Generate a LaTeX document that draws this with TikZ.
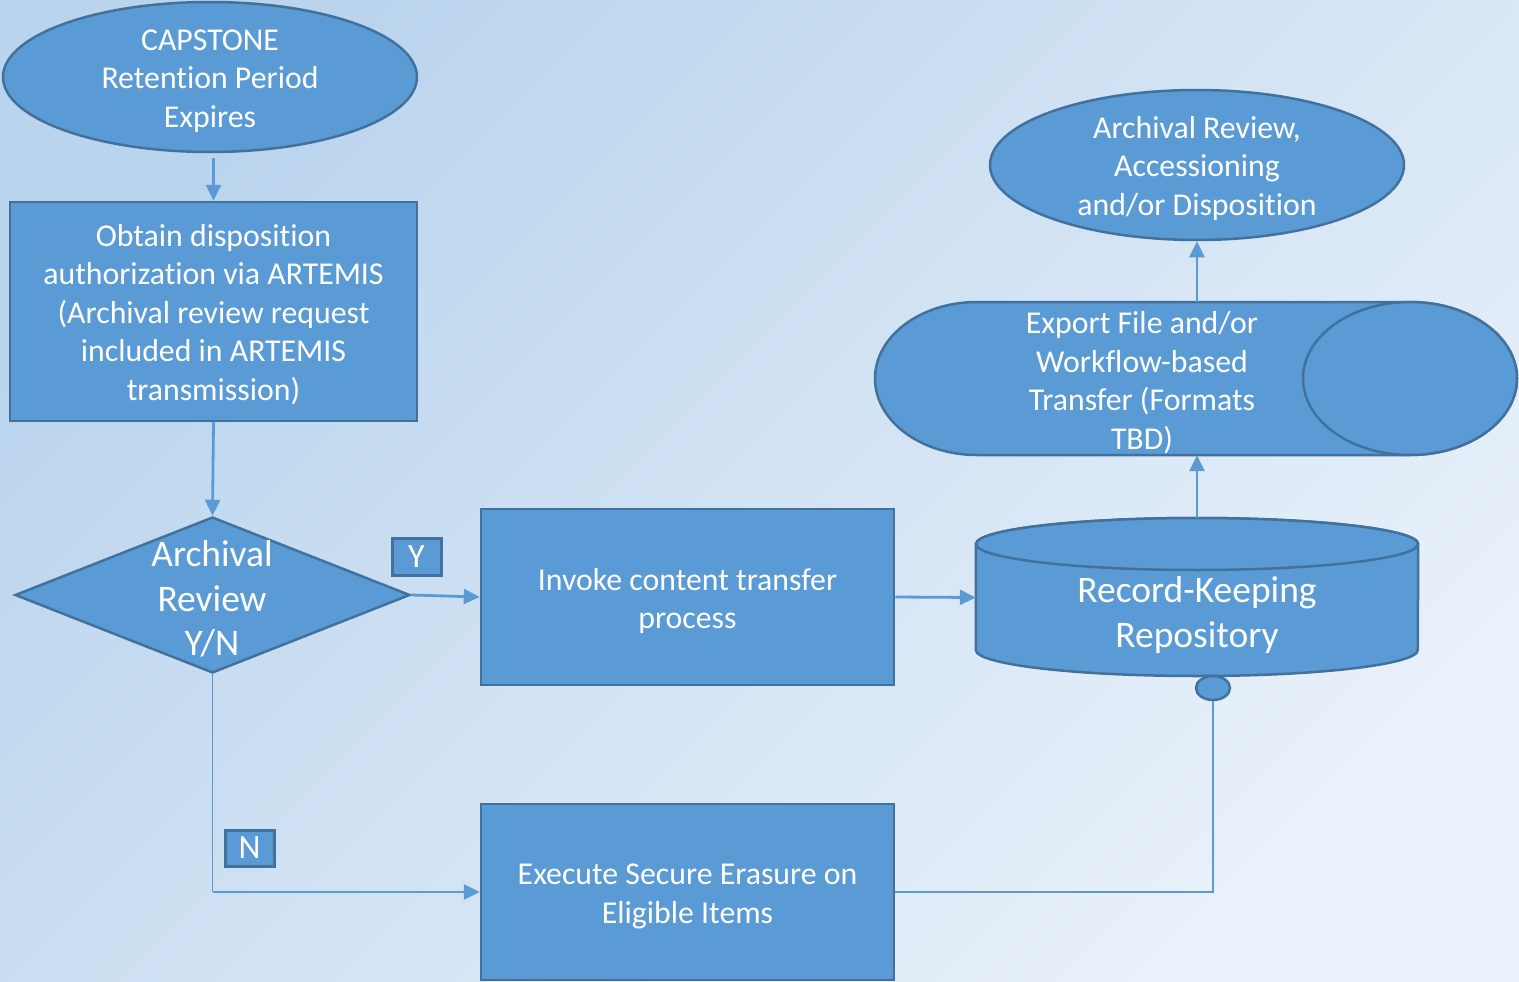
\documentclass[tikz,border=0pt]{standalone}
\usepackage{fontspec}
\setmainfont{Carlito}[Ligatures={NoCommon}]
\usetikzlibrary{shapes.geometric,arrows.meta}
\definecolor{bgA}{RGB}{186,212,237}
\definecolor{bgB}{RGB}{233,241,250}
\definecolor{boxfill}{RGB}{91,155,213}
\definecolor{boxline}{RGB}{65,113,156}
\definecolor{linec}{RGB}{91,155,213}
\tikzset{
  shp/.style={fill=boxfill, draw=boxline, line width=2.5pt, inner sep=0pt},
  txt/.style={text=white, align=center, inner sep=0pt, font=\fontsize{31.8}{38.5}\selectfont},
  bigtxt/.style={txt, font=\fontsize{37.5}{44.5}\selectfont},
  lbl/.style={fill=boxfill, draw=boxline, line width=3pt, text=white, inner sep=0pt, font=\fontsize{34}{36}\selectfont},
  conn/.style={draw=linec, line width=2.8pt},
  thinconn/.style={draw=linec, line width=1.6pt},
  arr/.style={conn, -{Triangle[length=16pt,width=15pt]}}
}
\begin{document}
\begin{tikzpicture}[x=1pt,y=-1pt]
\useasboundingbox (0,0) rectangle (1519,982);
\shade[top color=bgA, bottom color=bgB, shading angle=45] (0,0) rectangle (1519,982);

% start ellipse
\node[shp, ellipse, minimum width=414pt, minimum height=150pt] (cap) at (210,77) {};
\node[txt] at (210,81) {CAPSTONE\\Retention Period\\Expires};

% obtain rectangle
\node[shp, rectangle, minimum width=407pt, minimum height=219pt] (obt) at (213.5,311.5) {};
\node[txt] at (213.5,314.5) {Obtain disposition\\authorization via ARTEMIS\\(Archival review request\\included in ARTEMIS\\transmission)};

% decision
\node[shp, diamond, minimum width=395pt, minimum height=156pt] (dia) at (212.5,595) {};
\node[bigtxt] at (212,599) {Archival\\Review\\Y/N};

% invoke
\node[shp, rectangle, minimum width=413pt, minimum height=176pt] (inv) at (687.5,597) {};
\node[txt] at (687.5,601) {Invoke content transfer\\process};

% repository cylinder
\node[inner sep=0pt, minimum width=442pt, minimum height=159pt] (repo) at (1197,597.5) {};
\path[shp] (repo.west |- 0,544) -- (repo.west |- 0,650)
  arc[start angle=180, end angle=360, x radius=221pt, y radius=26pt]
  -- (repo.east |- 0,544)
  arc[start angle=0, end angle=180, x radius=221pt, y radius=26pt] -- cycle;
\path[shp] (1197,544) ellipse[x radius=221pt, y radius=26pt];
\node[bigtxt] at (1197,615) {Record-Keeping\\Repository};

% small port
\node[shp, ellipse, minimum width=34pt, minimum height=24pt] (port) at (1213,688) {};

% erase
\node[shp, rectangle, minimum width=413pt, minimum height=176pt] (era) at (687.5,892) {};
\node[txt] at (687.5,896.5) {Execute Secure Erasure on\\Eligible Items};

% export (horizontal cylinder)
\node[inner sep=0pt, minimum width=642pt, minimum height=153pt] (exp) at (1196,378.5) {};
\path[shp] (1410,302) -- (977,302)
  arc[start angle=90, end angle=270, x radius=102pt, y radius=76.5pt]
  -- (1410,455)
  arc[start angle=-90, end angle=90, x radius=107pt, y radius=76.5pt] -- cycle;
\path[shp] (1410,378.5) ellipse[x radius=107pt, y radius=76.5pt];
\node[txt] at (1142,382.5) {Export File and/or\\Workflow-based\\Transfer (Formats\\TBD)};

% archival ellipse
\node[shp, ellipse, minimum width=414pt, minimum height=150pt] (arc) at (1197,165) {};
\node[txt] at (1197,168.5) {Archival Review,\\Accessioning\\and/or Disposition};

% labels
\node[lbl, minimum width=49pt, minimum height=37pt] (ylab) at (416.5,556.5) {Y};
\node[lbl, minimum width=49pt, minimum height=36pt] (nlab) at (249.5,848) {N};

% connectors
\draw[arr] (obt.north |- 0,158) -- (obt.north);
\draw[arr] (obt.south) -- (dia.north);
\draw[arr] (dia.east) -- (inv.west);
\draw[arr] (inv.east) -- (repo.west);
\draw[arr] (repo.north) -- (repo.north |- exp.south);
\draw[arr] (arc.south |- exp.north) -- (arc.south);
\draw[thinconn] (dia.south) -- (dia.south |- era.west) coordinate (nc);
\draw[arr] (nc) -- (era.west);
\draw[thinconn] (port.south) |- (era.east);
\end{tikzpicture}
\end{document}
